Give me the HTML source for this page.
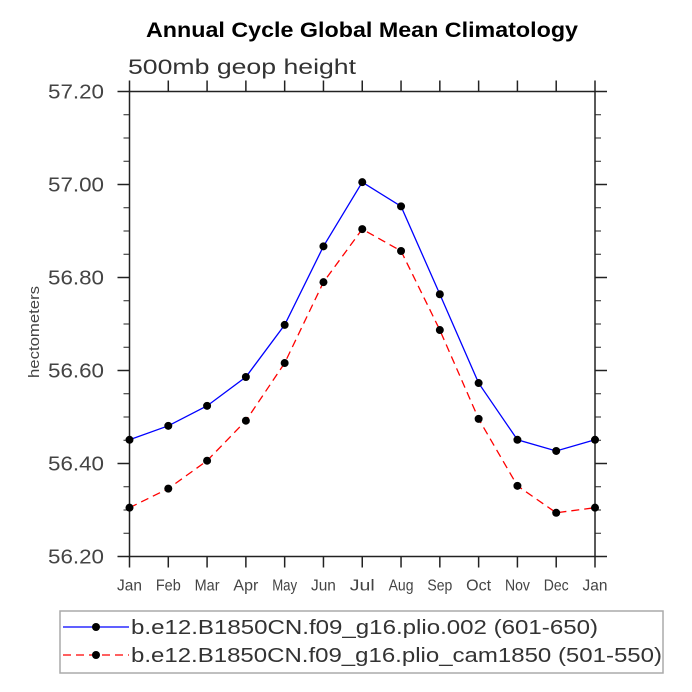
<!DOCTYPE html>
<html><head><meta charset="utf-8"><style>
body{margin:0;background:#fff;}
svg{display:block;font-family:"Liberation Sans",sans-serif;}
</style></head><body>
<svg id="chart" width="692" height="692" viewBox="0 0 692 692">
<text x="146" y="37" textLength="432" lengthAdjust="spacingAndGlyphs" font-size="21" font-weight="bold" fill="#000">Annual Cycle Global Mean Climatology</text>
<text x="128" y="74" textLength="228" lengthAdjust="spacingAndGlyphs" font-size="21" fill="#333">500mb geop height</text>
<text transform="translate(39,332) rotate(-90)" text-anchor="middle" textLength="92" lengthAdjust="spacingAndGlyphs" font-size="15" fill="#444">hectometers</text>
<g id="axes"></g>
<g id="series"></g>
<rect x="60" y="611" width="603" height="62" fill="none" stroke="#aaa" stroke-width="1.5"/>
<g>
<line x1="63" y1="627" x2="129" y2="627" stroke="#00f" stroke-width="1.3"/>
<circle cx="96" cy="627" r="4" fill="#000"/>
<text x="131" y="634" textLength="467" lengthAdjust="spacingAndGlyphs" font-size="20" fill="#333">b.e12.B1850CN.f09_g16.plio.002 (601-650)</text>
</g>
<g>
<line x1="63" y1="655" x2="129" y2="655" stroke="#f00" stroke-width="1.3" stroke-dasharray="8,5"/>
<circle cx="96" cy="655" r="4" fill="#000"/>
<text x="131" y="662" textLength="531" lengthAdjust="spacingAndGlyphs" font-size="20" fill="#333">b.e12.B1850CN.f09_g16.plio_cam1850 (501-550)</text>
</g>
</svg>
<script>
const months = ["Jan","Feb","Mar","Apr","May","Jun","Jul","Aug","Sep","Oct","Nov","Dec","Jan"];
const plioValues = [56.451,56.481,56.524,56.586,56.698,56.867,57.005,56.953,56.764,56.573,56.451,56.427,56.451];
const camValues = [56.305,56.346,56.406,56.492,56.616,56.790,56.904,56.857,56.687,56.496,56.352,56.294,56.305];
const yTicks = [56.2,56.4,56.6,56.8,57.0,57.2];
const yTickLabels = ["56.20","56.40","56.60","56.80","57.00","57.20"];

const L=129.5,R=595,T=91.5,B=556.5,YMIN=56.2,YMAX=57.2;
const NS="http://www.w3.org/2000/svg";
function xs(i){return L+(R-L)*i/(months.length-1);}
function ys(v){return B-(v-YMIN)/(YMAX-YMIN)*(B-T);}
function mk(t,a,p){const e=document.createElementNS(NS,t);for(const k in a)e.setAttribute(k,a[k]);p.appendChild(e);return e;}
const ax=document.getElementById('axes');
const frame=mk('rect',{x:L,y:T,width:R-L,height:B-T,fill:'none',stroke:'#222','stroke-width':1.5},ax);


yTicks.forEach((v,i)=>{
  const y=ys(v);
  mk('line',{x1:L-12,y1:y,x2:L,y2:y,stroke:'#222','stroke-width':1.5},ax);
  mk('line',{x1:R,y1:y,x2:R+12,y2:y,stroke:'#222','stroke-width':1.5},ax);
  const t=mk('text',{x:104,y:y+7,'text-anchor':'end','font-size':20,fill:'#444',textLength:56,lengthAdjust:'spacingAndGlyphs'},ax);
  t.textContent=yTickLabels[i];
  
  
  if(i<yTicks.length-1){for(let m=1;m<4;m++){const ym=ys(v+(yTicks[i+1]-v)*m/4);
    mk('line',{x1:L-6,y1:ym,x2:L,y2:ym,stroke:'#222','stroke-width':1},ax);
    mk('line',{x1:R,y1:ym,x2:R+6,y2:ym,stroke:'#222','stroke-width':1},ax);}}
});
months.forEach((m,i)=>{
  const x=xs(i);
  mk('line',{x1:x,y1:B,x2:x,y2:B+11,stroke:'#222','stroke-width':1.5},ax);
  mk('line',{x1:x,y1:T-11,x2:x,y2:T,stroke:'#222','stroke-width':1.5},ax);
  const t=mk('text',{x:x,y:B+34,'text-anchor':'middle','font-size':16,fill:'#444',textLength:m.length*8.3,lengthAdjust:'spacingAndGlyphs'},ax);
  t.textContent=m;
  
  
});
const sg=document.getElementById('series');
function drawSeries(vals,color,dash,name){
  const g=mk('g',{},sg);
  
  
  const pts=vals.map((v,i)=>xs(i)+','+ys(v)).join(' ');
  const a={points:pts,fill:'none',stroke:color,'stroke-width':1.3};
  if(dash)a['stroke-dasharray']=dash;
  mk('polyline',a,g);
  vals.forEach((v,i)=>{const c=mk('circle',{cx:xs(i),cy:ys(v),r:4,fill:'#000'},g);
    
    });
}
drawSeries(camValues,'#f00','8,5','series-plio-cam1850');
drawSeries(plioValues,'#00f',null,'series-plio-002');
</script>
</body></html>
